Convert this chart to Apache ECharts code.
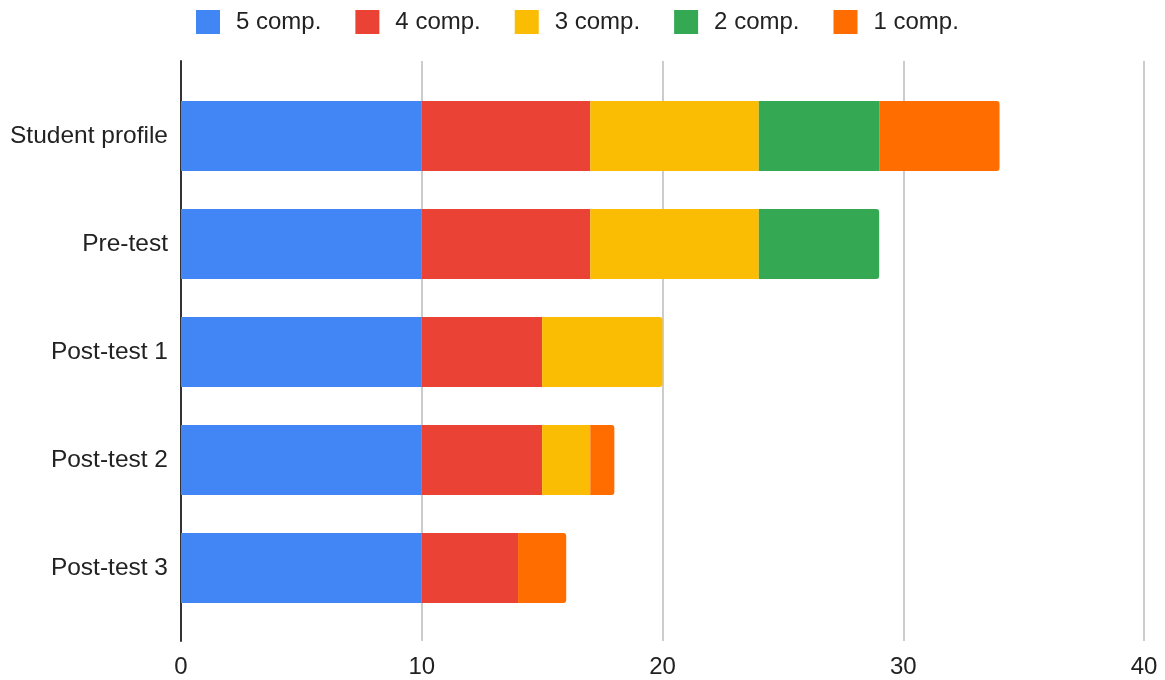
<!DOCTYPE html>
<html>
<head>
<meta charset="utf-8">
<script src="https://cdn.jsdelivr.net/npm/echarts@6/dist/echarts.min.js"></script>
<style>
  html, body { margin: 0; padding: 0; background: #fff; }
  #chart { width: 1165px; height: 680px; }
</style>
</head>
<body>
<div id="chart"></div>
<script>
// Number of students per completion level, by assessment stage
const categories = ['Student profile', 'Pre-test', 'Post-test 1', 'Post-test 2', 'Post-test 3'];
const seriesNames = ['5 comp.', '4 comp.', '3 comp.', '2 comp.', '1 comp.'];
const comp5 = [10, 10, 10, 10, 10];
const comp4 = [7, 7, 5, 5, 4];
const comp3 = [7, 7, 5, 2, 0];
const comp2 = [5, 5, 0, 0, 0];
const comp1 = [5, 0, 0, 1, 2];
const xTicks = [0, 10, 20, 30, 40];

const colors = ['#4285F4', '#EA4335', '#FBBC04', '#34A853', '#FF6D01'];
const FONT = '"Liberation Sans", Arial, sans-serif';
const allSeries = [comp5, comp4, comp3, comp2, comp1];

// index of the outermost non-empty segment in each row (gets rounded end)
const lastIdx = categories.map((_, c) => {
  let last = 0;
  allSeries.forEach((s, i) => { if (s[c] > 0) last = i; });
  return last;
});

const series = allSeries.map((vals, i) => ({
  name: seriesNames[i],
  type: 'bar',
  stack: 'total',
  xAxisIndex: 1,
  yAxisIndex: 1,
  barWidth: 70,
  itemStyle: { color: colors[i] },
  emphasis: { disabled: true },
  data: vals.map((v, c) => lastIdx[c] === i
    ? { value: v, itemStyle: { borderRadius: [0, 3, 3, 0] } }
    : v)
}));

const chart = echarts.init(document.getElementById('chart'), null, { renderer: 'canvas' });
chart.setOption({
  animation: false,
  color: colors,
  textStyle: { fontFamily: FONT },
  legend: {
    left: 191,
    top: 5,
    icon: 'rect',
    itemWidth: 24,
    itemHeight: 24,
    itemGap: 34,
    textStyle: { fontSize: 24, color: '#222', fontFamily: FONT, padding: [0, 0, 0, 11] },
    data: seriesNames
  },
  grid: [
    { left: 181, right: 21, top: 61, bottom: 39 },
    { left: 181, right: 21, top: 82, bottom: 58 }
  ],
  xAxis: [
    {
      gridIndex: 0,
      type: 'value',
      min: xTicks[0],
      max: xTicks[xTicks.length - 1],
      interval: xTicks[1] - xTicks[0],
      axisLine: { show: false },
      axisTick: { show: false },
      axisLabel: { fontSize: 24, color: '#222', fontFamily: FONT, margin: 14 },
      splitLine: { show: true, lineStyle: { color: '#cccccc', width: 2 } }
    },
    {
      gridIndex: 1,
      type: 'value',
      min: xTicks[0],
      max: xTicks[xTicks.length - 1],
      show: false
    }
  ],
  yAxis: [
    {
      gridIndex: 0,
      type: 'value',
      min: 0,
      max: 1,
      axisLine: { show: true, lineStyle: { color: '#333', width: 2 } },
      axisTick: { show: false },
      axisLabel: { show: false },
      splitLine: { show: false }
    },
    {
      gridIndex: 1,
      type: 'category',
      inverse: true,
      data: categories,
      axisLine: { show: false },
      axisTick: { show: false },
      splitLine: { show: false },
      axisLabel: { fontSize: 24.5, color: '#222', fontFamily: FONT, margin: 13 }
    }
  ],
  series: series
});
</script>
</body>
</html>
